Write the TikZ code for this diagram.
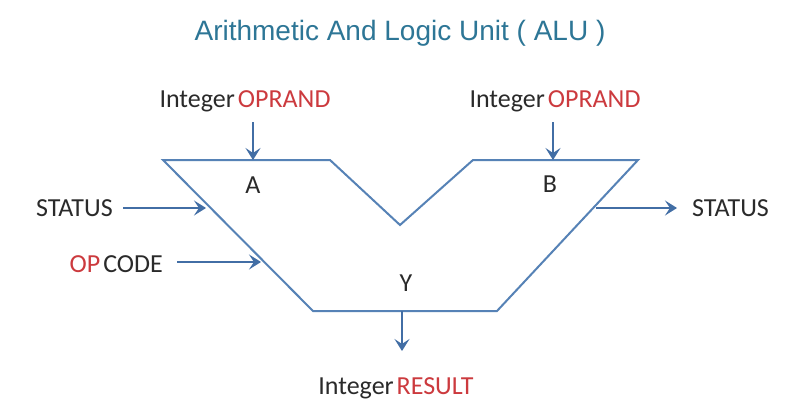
\documentclass[tikz,border=0pt]{standalone}
\usepackage{fontspec}
\setmainfont{Carlito}
\newfontfamily\titlefont{Liberation Sans}
\usetikzlibrary{arrows.meta}
\definecolor{edgeblue}{RGB}{86,130,182}
\definecolor{arrowblue}{RGB}{66,110,165}
\definecolor{titleteal}{RGB}{45,118,150}
\definecolor{opred}{RGB}{204,58,62}
\definecolor{inkgray}{RGB}{42,42,42}
\tikzset{
  body/.style={draw=edgeblue, line width=2pt, line join=miter},
  flow/.style={draw=arrowblue, line width=2.6pt, -{Stealth[length=12pt,width=15pt,inset=5pt]}},
  lbl/.style={inner sep=0pt, text=inkgray, font=\fontsize{26}{30}\selectfont},
  port/.style={inner sep=0pt, text=inkgray, font=\fontsize{26}{30}\selectfont},
}
\newcommand{\hot}[1]{\textcolor{opred}{#1}}
\begin{document}
\begin{tikzpicture}[x=1pt,y=-1pt]
\useasboundingbox (0,0) rectangle (785,407);
\fill[white] (0,0) rectangle (785,407);

% title
\node[inner sep=0pt, text=titleteal, font=\titlefont\fontsize{28}{32}\selectfont] (title) at (400,33) {Arithmetic And Logic Unit ( ALU )};

% ALU outline
\coordinate (tl) at (163,160);
\coordinate (ta) at (330,160);
\coordinate (v)  at (400,225);
\coordinate (tb) at (473,160);
\coordinate (tr) at (638,160);
\coordinate (br) at (497,311);
\coordinate (bl) at (313,311);
\draw[body] (tl) -- (ta) -- (v) -- (tb) -- (tr) -- (br) -- (bl) -- cycle;

% port letters
\node[port] (pa) at (253,185) {A};
\node[port] (pb) at (550,184) {B};
\node[port] (py) at (406,283) {Y};

% operand inputs
\node[lbl] (opa) at (245,101) {Integer\hspace{3pt}\hot{OPRAND}};
\node[lbl] (opb) at (555,101) {Integer\hspace{3pt}\hot{OPRAND}};
\coordinate (sa) at (253,122);
\coordinate (ina) at (253,160);
\coordinate (sb) at (553,122);
\coordinate (inb) at (553,160);
\draw[flow] (sa) -- (ina);
\draw[flow] (sb) -- (inb);

% status and op code inputs
\node[lbl, anchor=east] (stin) at (113,208) {STATUS};
\node[lbl, anchor=east] (opc) at (163,264) {\hot{OP}\hspace{3pt}CODE};
\coordinate (stbeg) at (123,208);
\coordinate (stend) at (206,208);
\coordinate (opbeg) at (177,262);
\coordinate (opend) at (261,262);
\draw[flow] (stbeg) -- (stend);
\draw[flow] (opbeg) -- (opend);

% status output
\coordinate (stsrc) at (596,208);
\coordinate (stdst) at (677,208);
\node[lbl, anchor=west] (stout) at (692,208) {STATUS};
\draw[flow] (stsrc) -- (stdst);

% result
\coordinate (outy) at (402,311);
\coordinate (outend) at (402,351);
\node[lbl] (res) at (396,388) {Integer\hspace{3pt}\hot{RESULT}};
\draw[flow] (outy) -- (outend);
\end{tikzpicture}
\end{document}
